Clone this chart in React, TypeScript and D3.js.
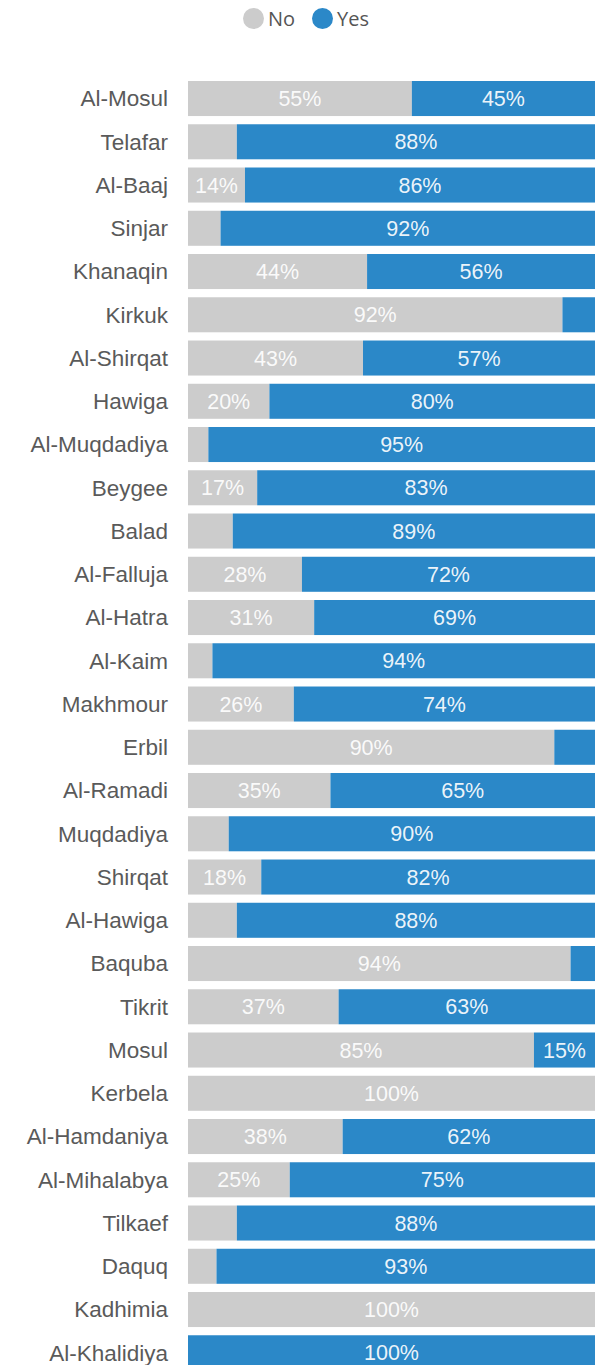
import React, { useEffect, useRef } from 'react';
import * as d3 from 'd3';

// districts, top to bottom
const categories = [
  'Al-Mosul', 'Telafar', 'Al-Baaj', 'Sinjar', 'Khanaqin', 'Kirkuk', 'Al-Shirqat', 'Hawiga',
  'Al-Muqdadiya', 'Beygee', 'Balad', 'Al-Falluja', 'Al-Hatra', 'Al-Kaim', 'Makhmour', 'Erbil',
  'Al-Ramadi', 'Muqdadiya', 'Shirqat', 'Al-Hawiga', 'Baquba', 'Tikrit', 'Mosul', 'Kerbela',
  'Al-Hamdaniya', 'Al-Mihalabya', 'Tilkaef', 'Daquq', 'Kadhimia', 'Al-Khalidiya',
];

const noValues = [55, 12, 14, 8, 44, 92, 43, 20, 5, 17, 11, 28, 31, 6, 26, 90, 35, 10, 18, 12, 94, 37, 85, 100, 38, 25, 12, 7, 100, 0];
const yesValues = [45, 88, 86, 92, 56, 8, 57, 80, 95, 83, 89, 72, 69, 94, 74, 10, 65, 90, 82, 88, 6, 63, 15, 0, 62, 75, 88, 93, 0, 100];

const seriesNames = ['No', 'Yes'];
const seriesColors = ['#cccccc', '#2b88c8'];

const width = 595;
const height = 1365;

const App = () => {
  const svgRef = useRef<SVGSVGElement>(null);

  useEffect(() => {
    const svg = d3.select(svgRef.current);
    svg.selectAll('*').remove();

    const left = 188;
    const right = 595;
    const top = 76.9;
    const step = 43.25;

    const x = d3.scaleLinear().domain([0, 100]).range([left, right]);
    const y = d3.scaleBand<string>()
      .domain(categories)
      .range([top, top + step * categories.length])
      .paddingInner(0.19)
      .paddingOuter(0.095);

    const rows = categories.map((c, i) => ({ name: c, No: noValues[i], Yes: yesValues[i] }));
    const stacked = d3.stack<any>().keys(seriesNames)(rows);

    const layers = svg.append('g')
      .selectAll('g')
      .data(stacked)
      .enter()
      .append('g')
      .attr('fill', (d, i) => seriesColors[i]);

    layers.selectAll('rect')
      .data(d => d)
      .enter()
      .append('rect')
      .attr('x', d => x(d[0]))
      .attr('y', d => y(d.data.name)!)
      .attr('width', d => x(d[1]) - x(d[0]))
      .attr('height', y.bandwidth());

    // value labels, only where they fit
    layers.selectAll('text')
      .data(d => d.filter(s => s[1] - s[0] >= 13))
      .enter()
      .append('text')
      .attr('x', d => (x(d[0]) + x(d[1])) / 2)
      .attr('y', d => y(d.data.name)! + y.bandwidth() / 2)
      .attr('dy', '0.35em')
      .attr('text-anchor', 'middle')
      .attr('fill', '#ffffff')
      .attr('fill-opacity', 0.92)
      .style('font-family', '"Liberation Sans", Arial, sans-serif')
      .style('font-size', '21.5px')
      .text(d => `${d[1] - d[0]}%`);

    // category axis labels
    svg.append('g')
      .selectAll('text')
      .data(categories)
      .enter()
      .append('text')
      .attr('x', 168)
      .attr('y', d => y(d)! + y.bandwidth() / 2)
      .attr('dy', '0.35em')
      .attr('text-anchor', 'end')
      .attr('fill', '#5a5a5a')
      .style('font-family', '"Liberation Sans", Arial, sans-serif')
      .style('font-size', '22.5px')
      .text(d => d);

    // legend
    const legendX = [253.5, 322.5];
    const legend = svg.append('g')
      .selectAll('g')
      .data(seriesNames)
      .enter()
      .append('g')
      .attr('transform', (d, i) => `translate(${legendX[i]}, 18.5)`);

    legend.append('circle')
      .attr('r', 10.5)
      .attr('fill', (d, i) => seriesColors[i]);

    legend.append('text')
      .attr('x', 14.5)
      .attr('dy', '0.35em')
      .attr('fill', '#555555')
      .style('font-family', '"Open Sans", sans-serif')
      .style('font-size', '20px')
      .text(d => d);
  }, []);

  return (
    <svg
      ref={svgRef}
      width={width}
      height={height}
      style={{ position: 'absolute', left: 0, top: 0, background: '#ffffff', overflow: 'hidden' }}
    />
  );
};

export default App;
